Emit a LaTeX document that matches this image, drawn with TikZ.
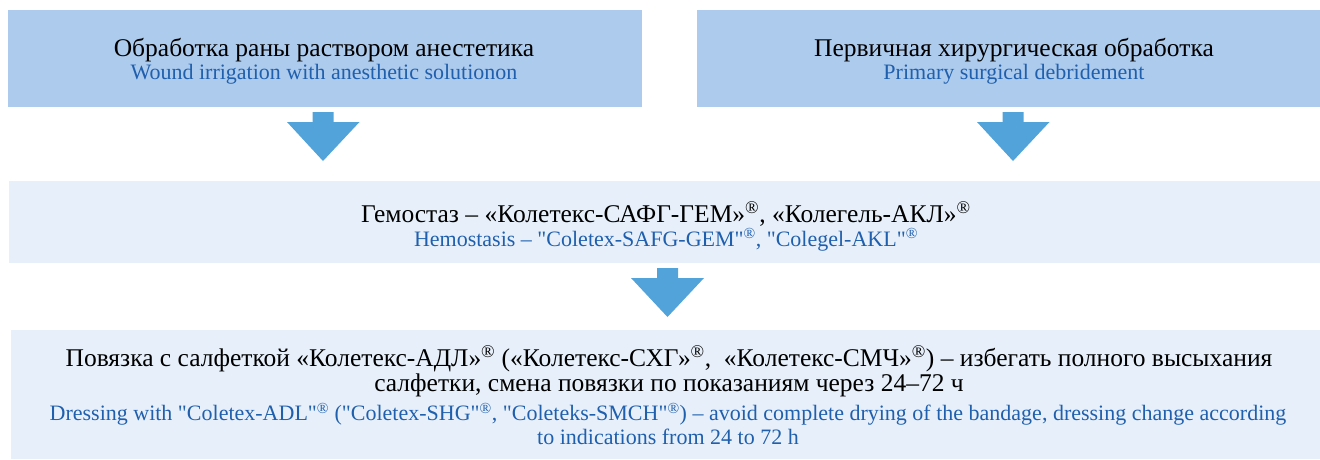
\documentclass[tikz,border=0pt]{standalone}
\usepackage{fontspec}
\setmainfont{Liberation Serif}[Ligatures=TeXOff]
\definecolor{topbox}{HTML}{ADCBED}
\definecolor{palebox}{HTML}{E7F0FA}
\definecolor{arrowblue}{HTML}{52A3D9}
\definecolor{entext}{HTML}{1F5FAD}
\newcommand{\reg}{\textsuperscript{\textregistered}}
\tikzset{
  topstep/.style={fill=topbox, draw=none},
  palestep/.style={fill=palebox, draw=none},
  ru/.style={align=center, inner sep=0pt, font=\fontsize{25.5}{25}\selectfont},
  en/.style={align=center, inner sep=0pt, text=entext, font=\fontsize{22}{24}\selectfont},
  downarrow/.style={fill=arrowblue, draw=none},
}
\begin{document}
\begin{tikzpicture}[x=1pt,y=-1pt]
\useasboundingbox (0,0) rectangle (1320,459);
% boxes
\fill[topstep] (8,10) rectangle (642,107);
\fill[topstep] (697,10) rectangle (1320,107);
\fill[palestep] (9,181) rectangle (1320,263);
\fill[palestep] (11,330) rectangle (1320,459);
% texts
\node[ru] (t1) at (324,50) {Обработка раны раствором анестетика};
\node[en] (e1) at (324,74) {Wound irrigation with anesthetic solutionon};
\node[ru] (t2) at (1014,50) {Первичная хирургическая обработка};
\node[en] (e2) at (1014,74) {Primary surgical debridement};
\node[ru] (t3) at (666,214) {Гемостаз – «Колетекс-САФГ-ГЕМ»\reg, «Колегель-АКЛ»\reg};
\node[en] (e3) at (666,239.5) {Hemostasis – "Coletex-SAFG-GEM"\reg, "Colegel-AKL"\reg};
\node[ru] (t4) at (669,371) {Повязка с салфеткой «Колетекс-АДЛ»\reg{} («Колетекс-СХГ»\reg,\ \ «Колетекс-СМЧ»\reg) – избегать полного высыхания\\салфетки, смена повязки по показаниям через 24–72 ч};
\node[en] (e4) at (668,424) {Dressing with "Coletex-ADL"\reg{} ("Coletex-SHG"\reg, "Coleteks-SMCH"\reg) – avoid complete drying of the bandage, dressing change according\\to indications from 24 to 72 h};
% arrows
\fill[downarrow] (312.5,112) -- (333.5,112) -- (333.5,122) -- (359.5,122) -- (323,161) -- (287,122) -- (312.5,122) -- cycle;
\fill[downarrow] (1002.5,112) -- (1023.5,112) -- (1023.5,122) -- (1049.5,122) -- (1013,161) -- (977,122) -- (1002.5,122) -- cycle;
\fill[downarrow] (657,268) -- (678,268) -- (678,278) -- (704,278) -- (667.5,317) -- (631,278) -- (657,278) -- cycle;
\end{tikzpicture}
\end{document}
